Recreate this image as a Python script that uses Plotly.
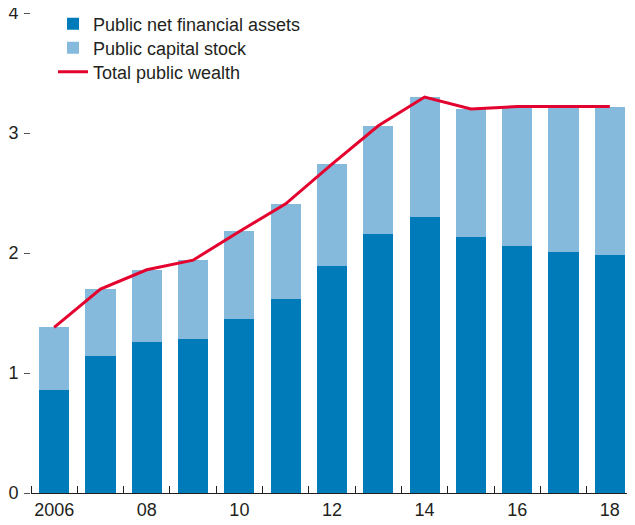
import plotly.graph_objects as go

years = [2006, 2007, 2008, 2009, 2010, 2011, 2012, 2013, 2014, 2015, 2016, 2017, 2018]
financial_assets = [0.86, 1.14, 1.26, 1.28, 1.45, 1.62, 1.89, 2.16, 2.30, 2.13, 2.06, 2.01, 1.98]
capital_stock = [0.52, 0.56, 0.60, 0.66, 0.73, 0.79, 0.85, 0.90, 1.00, 1.07, 1.16, 1.21, 1.24]
total_wealth = [1.38, 1.70, 1.86, 1.94, 2.18, 2.41, 2.74, 3.06, 3.30, 3.20, 3.22, 3.22, 3.22]
tick_years = [2006, 2008, 2010, 2012, 2014, 2016, 2018]
tick_labels = ["2006", "08", "10", "12", "14", "16", "18"]
y_ticks = [0, 1, 2, 3, 4]

FONT = "Liberation Sans Narrow, Arial Narrow, Liberation Sans, Arial, sans-serif"
TXT = "#231F20"

fig = go.Figure()
fig.add_trace(go.Bar(x=years, y=financial_assets, name="Public net financial assets",
                     marker=dict(color="#007BBA", line=dict(width=0)), legend="legend"))
fig.add_trace(go.Bar(x=years, y=capital_stock, name="Public capital stock",
                     marker=dict(color="#86BADD", line=dict(width=0)), legend="legend2"))
fig.add_trace(go.Scatter(x=years, y=total_wealth, name="Total public wealth", mode="lines",
                         line=dict(color="#E4032E", width=3), legend="legend3"))

half_years = [y - 0.5 for y in years] + [years[-1] + 0.5]

# page has an 8px body margin; figure is sized to fit the 635x525 window
W, H = 627, 517
ML, MR, MT, MB = 23, 2, 5, 32
plot_h = H - MT - MB


def leg(fig_y):
    return dict(x=(45 - ML) / (W - ML - MR), y=1 - (fig_y - MT) / plot_h,
                xanchor="left", yanchor="middle", bgcolor="rgba(0,0,0,0)",
                font=dict(size=18, family=FONT, color=TXT), itemwidth=30)


fig.update_layout(
    width=W, height=H,
    margin=dict(l=ML, r=MR, t=MT, b=MB, autoexpand=False),
    barmode="stack", bargap=0.35,
    plot_bgcolor="white", paper_bgcolor="white",
    font=dict(family=FONT, size=18, color=TXT),
    showlegend=True,
    legend=leg(16), legend2=leg(40), legend3=leg(64),
    xaxis=dict(range=[years[0] - 0.5, years[-1] + 0.5], tickmode="array",
               tickvals=tick_years, ticktext=tick_labels, ticks="", automargin=False,
               showgrid=False, zeroline=False, showline=True, linecolor="#231F20", linewidth=1,
               ticklabeloverflow="allow",
               tickfont=dict(size=18, family=FONT, color=TXT),
               minor=dict(tickmode="array", tickvals=half_years, ticks="inside",
                          ticklen=7, tickcolor="#231F20", tickwidth=1, showgrid=False)),
    yaxis=dict(range=[0, 4], tickmode="array", tickvals=y_ticks, ticks="outside",
               ticklen=6, tickcolor="#555", tickwidth=1, showgrid=False, zeroline=False,
               showline=False, mirror="ticks", ticklabelstandoff=2, automargin=False,
               ticklabeloverflow="allow",
               tickfont=dict(size=18, family=FONT, color=TXT)),
)

fig.write_html("out.html")
